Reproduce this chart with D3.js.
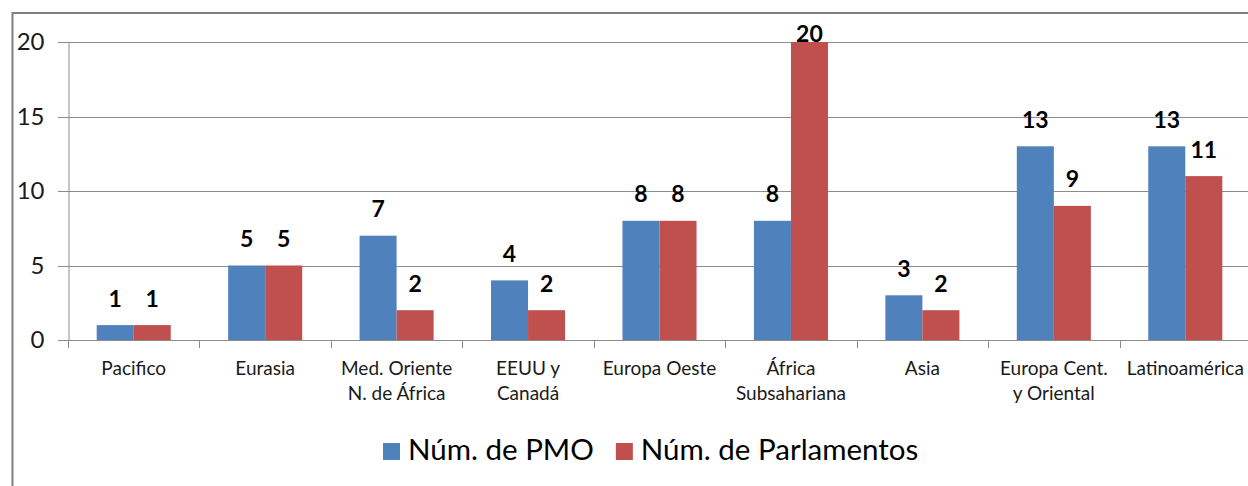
<!DOCTYPE html>
<html>
<head>
<meta charset="utf-8">
<script src="https://cdn.jsdelivr.net/npm/d3@7"></script>
<style>
  html, body { margin: 0; padding: 0; background: #fff; overflow: hidden; }
  svg { display: block; font-family: Lato, "Open Sans", sans-serif; }
</style>
</head>
<body>
<div id="chart"></div>
<script>
const categories = [
  'Pacifico', 'Eurasia', 'Med. Oriente\nN. de África', 'EEUU y\nCanadá', 'Europa Oeste',
  'África\nSubsahariana', 'Asia', 'Europa Cent.\ny Oriental', 'Latinoamérica'
];
const pmo = [1, 5, 7, 4, 8, 8, 3, 13, 13];
const parlamentos = [1, 5, 2, 2, 8, 20, 2, 9, 11];
const seriesNames = ['Núm. de PMO', 'Núm. de Parlamentos'];
const colors = ['#4f81bd', '#c0504d'];
const yTicks = [0, 5, 10, 15, 20];

const width = 1248;
const height = 486;
const margin = {top: 42, bottom: 146, left: 68, right: -3};

const rows = categories.map((c, i) => ({cat: c, values: [pmo[i], parlamentos[i]]}));

const svg = d3.select('#chart')
  .append('svg')
  .attr('width', width)
  .attr('height', height);

// outer frame (chart area border)
svg.append('rect')
  .attr('x', 12.5).attr('y', 13)
  .attr('width', 1400).attr('height', 600)
  .attr('fill', 'none')
  .attr('stroke', '#7f7f7f')
  .attr('stroke-width', 2);

const x0 = d3.scaleBand()
  .domain(categories)
  .range([margin.left, width - margin.right])
  .padding(0);

const x1 = d3.scaleBand()
  .domain([0, 1])
  .range([0, x0.bandwidth()])
  .paddingInner(0)
  .paddingOuter(0.775);

const y = d3.scaleLinear()
  .domain([0, 20])
  .range([height - margin.bottom, margin.top]);

// gridlines
svg.append('g')
  .selectAll('line')
  .data(yTicks)
  .join('line')
    .attr('x1', margin.left - 10)
    .attr('x2', width)
    .attr('y1', d => Math.round(y(d)) + 0.5)
    .attr('y2', d => Math.round(y(d)) + 0.5)
    .attr('stroke', '#8c8c8c')
    .attr('stroke-width', 1);

// y axis
svg.append('g')
  .attr('transform', `translate(${margin.left + 0.5},0)`)
  .call(d3.axisLeft(y).tickValues(yTicks).tickSize(0).tickPadding(24))
  .call(g => g.select('.domain').attr('stroke', '#8c8c8c'))
  .call(g => g.selectAll('text')
    .attr('font-size', 24)
    .attr('font-family', 'Lato, sans-serif')
    .attr('fill', '#1a1a1a'));

// category tick marks
const bounds = categories.map(c => x0(c)).concat([x0.range()[1]]);
svg.append('g')
  .selectAll('line')
  .data(bounds)
  .join('line')
    .attr('x1', d => Math.round(d) + 0.5)
    .attr('x2', d => Math.round(d) + 0.5)
    .attr('y1', y(0))
    .attr('y2', y(0) + 8)
    .attr('stroke', '#8c8c8c');

// category labels
svg.append('g')
  .selectAll('text')
  .data(categories)
  .join('text')
    .attr('x', d => x0(d) + x0.bandwidth() / 2)
    .attr('y', y(0) + 35)
    .attr('text-anchor', 'middle')
    .attr('font-size', 19)
    .attr('fill', '#1a1a1a')
    .each(function(d) {
      const t = d3.select(this);
      d.split('\n').forEach((line, i) => {
        t.append('tspan')
          .attr('x', x0(d) + x0.bandwidth() / 2)
          .attr('dy', i === 0 ? 0 : 25)
          .text(line);
      });
    });

// bars
const groups = svg.append('g')
  .selectAll('g')
  .data(rows)
  .join('g')
    .attr('transform', d => `translate(${x0(d.cat)},0)`);

groups.selectAll('rect')
  .data(d => d.values.map((v, i) => ({v, i})))
  .join('rect')
    .attr('x', d => x1(d.i))
    .attr('y', d => y(d.v))
    .attr('width', x1.bandwidth())
    .attr('height', d => y(0) - y(d.v))
    .attr('fill', d => colors[d.i]);

// data labels
groups.selectAll('text')
  .data(d => d.values.map((v, i) => ({v, i})))
  .join('text')
    .attr('x', d => x1(d.i) + x1.bandwidth() / 2)
    .attr('y', d => Math.max(y(d.v) - 18.5, margin.top))
    .attr('text-anchor', 'middle')
    .attr('font-size', 23)
    .attr('font-weight', 'bold')
    .attr('fill', '#000')
    .text(d => d.v);

// legend
const legend = svg.append('g').attr('transform', `translate(383, 460)`);
let lx = 0;
seriesNames.forEach((name, i) => {
  legend.append('rect')
    .attr('x', lx).attr('y', -17)
    .attr('width', 17).attr('height', 17)
    .attr('fill', colors[i]);
  const t = legend.append('text')
    .attr('x', lx + 25).attr('y', 0)
    .attr('font-size', 29.5)
    .attr('fill', '#000')
    .text(name);
  lx += 25 + t.node().getComputedTextLength() + 22;
});
</script>
</body>
</html>
